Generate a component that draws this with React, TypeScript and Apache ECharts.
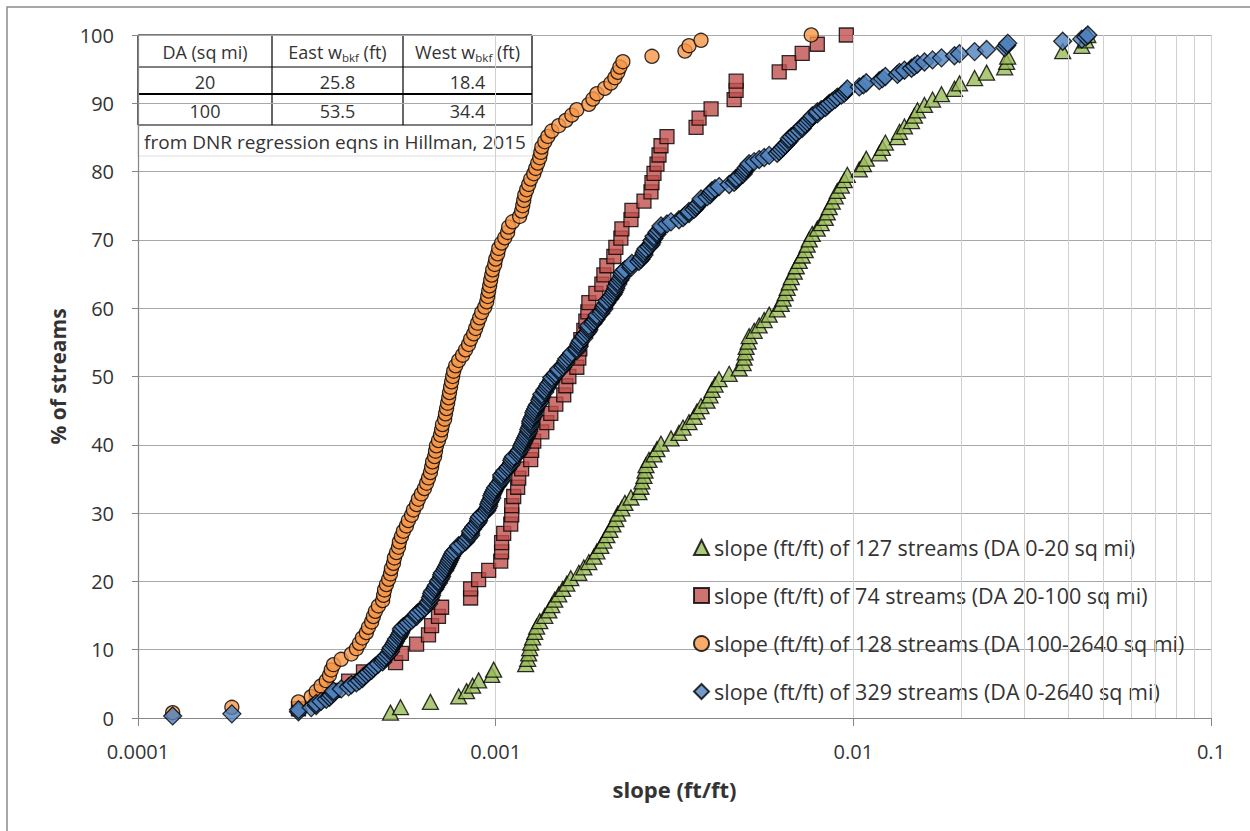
import React, { useEffect, useRef } from "react";
import * as echarts from "echarts";

// slope (ft/ft) of each stream
const greenSlopes = [
  0.000508, 0.000542, 0.000657, 0.000788, 0.000829, 0.000862, 0.000896, 0.000975, 0.000987,
  0.001213, 0.001229, 0.001237, 0.001245, 0.001253, 0.001269, 0.001286, 0.001302, 0.001328, 0.001372,
  0.001408, 0.001435, 0.001463, 0.001501, 0.00154, 0.001581, 0.001622, 0.001708, 0.001764, 0.001822,
  0.001882, 0.001919, 0.001968, 0.002007, 0.002046, 0.002086, 0.002127, 0.002168, 0.002196, 0.002254,
  0.002298, 0.002389, 0.002515, 0.002548, 0.002564, 0.002598, 0.002615, 0.002632, 0.002683, 0.002771,
  0.002825, 0.002899, 0.003092, 0.003255, 0.00334, 0.003472, 0.003586, 0.003656, 0.003751, 0.003899,
  0.003975, 0.004027, 0.004106, 0.004213, 0.004496, 0.004795, 0.00492, 0.004952, 0.004984, 0.005015,
  0.005081, 0.005113, 0.005281, 0.005454, 0.005633, 0.005818, 0.006125, 0.006285, 0.006366, 0.006449,
  0.006533, 0.006618, 0.006706, 0.006837, 0.006926, 0.00706, 0.007195, 0.007336, 0.007431, 0.00753,
  0.007677, 0.00793, 0.008134, 0.008347, 0.008455, 0.008565, 0.008733, 0.008903, 0.009019, 0.009255,
  0.009436, 0.00962, 0.01039, 0.01067, 0.01087, 0.01182, 0.01206, 0.01229, 0.01328, 0.01346,
  0.0139, 0.01454, 0.01482, 0.01511, 0.01581, 0.01665, 0.01764, 0.01918, 0.01981, 0.02183,
  0.02358, 0.02649, 0.02683, 0.02701, 0.03849, 0.04353, 0.04467, 0.04525,
];

const redSlopes = [
  0.000281, 0.000315, 0.000352, 0.000388, 0.000427, 0.000525, 0.000545, 0.000601, 0.000649, 0.000662,
  0.000692, 0.000706, 0.000851, 0.000851, 0.000896, 0.000956, 0.001033, 0.001039, 0.001039, 0.001053,
  0.001102, 0.001109, 0.001109, 0.001123, 0.001152, 0.00116, 0.001182, 0.001253, 0.001261, 0.001278,
  0.001346, 0.00139, 0.001426, 0.001473, 0.00155, 0.001571, 0.001602, 0.001686, 0.001708, 0.001719,
  0.00173, 0.001764, 0.001787, 0.00181, 0.001822, 0.001906, 0.001981, 0.002007, 0.002046, 0.00214,
  0.002168, 0.002239, 0.002254, 0.002389, 0.002404, 0.002598, 0.002718, 0.002735, 0.002771, 0.002825,
  0.002862, 0.002899, 0.003013, 0.003633, 0.003704, 0.004002, 0.004642, 0.004702, 0.004702, 0.006205,
  0.006618, 0.007195, 0.00793, 0.009559,
];

const orangeSlopes = [
  0.000125, 0.000183, 0.000281, 0.000305, 0.000315, 0.000325, 0.000336, 0.000343, 0.000347, 0.000352,
  0.00037, 0.000395, 0.000408, 0.000416, 0.000424, 0.000435, 0.000441, 0.00045, 0.000455, 0.000461,
  0.00047, 0.000483, 0.000486, 0.000489, 0.000495, 0.000502, 0.000508, 0.000511, 0.000518, 0.000521,
  0.000528, 0.000535, 0.000538, 0.000545, 0.000552, 0.000563, 0.00057, 0.000582, 0.000589, 0.000601,
  0.000608, 0.00062, 0.000632, 0.000641, 0.000649, 0.000657, 0.000662, 0.000666, 0.000675, 0.000679,
  0.000683, 0.000692, 0.000701, 0.000706, 0.00071, 0.00072, 0.000724, 0.000729, 0.000734, 0.000739,
  0.000743, 0.000748, 0.000753, 0.000758, 0.000763, 0.000773, 0.000788, 0.000808, 0.000824, 0.00084,
  0.000851, 0.000868, 0.000879, 0.00089, 0.000902, 0.000914, 0.000932, 0.000944, 0.00095, 0.000956,
  0.000962, 0.000968, 0.000975, 0.000981, 0.000994, 0.001, 0.001013, 0.00102, 0.001039, 0.00106,
  0.00108, 0.001087, 0.001115, 0.001167, 0.001182, 0.00119, 0.001198, 0.001206, 0.001221, 0.001237,
  0.001253, 0.001278, 0.001294, 0.001311, 0.001328, 0.001337, 0.001346, 0.001372, 0.001399, 0.001435,
  0.001501, 0.001571, 0.001633, 0.001686, 0.001822, 0.00187, 0.001919, 0.00202, 0.0021, 0.002154,
  0.002196, 0.002225, 0.002268, 0.002735, 0.003383, 0.003472, 0.003751, 0.007627,
];

const seriesNames = [
  "slope (ft/ft) of 127 streams (DA 0-20 sq mi)",
  "slope (ft/ft) of 74 streams (DA 20-100 sq mi)",
  "slope (ft/ft) of 128 streams (DA 100-2640 sq mi)",
  "slope (ft/ft) of 329 streams (DA 0-2640 sq mi)",
];

const minorGridValues = [
  0.0002, 0.0003, 0.0004, 0.0005, 0.0006, 0.0007, 0.0008, 0.0009,
  0.002, 0.003, 0.004, 0.005, 0.006, 0.007, 0.008, 0.009,
  0.02, 0.03, 0.04, 0.05, 0.06, 0.07, 0.08, 0.09,
];

const tableHeader = ["DA (sq mi)", "East w{s|bkf} (ft)", "West w{s|bkf} (ft)"];
const tableRows = [
  ["20", "25.8", "18.4"],
  ["100", "53.5", "34.4"],
];
const tableNote = "from DNR regression eqns in Hillman, 2015";

const FONT = "'Open Sans', Lato, sans-serif";
const TEXT = "#333333";

function cumulative(values: number[]) {
  const sorted = [...values].sort((a, b) => a - b);
  return sorted.map((v, i) => [v, ((i + 1) / sorted.length) * 100]);
}

function buildTable() {
  const colX = [138, 272, 403, 532];
  const rowY = [35, 67, 94, 125];
  const noteBottom = 156;
  const els: any[] = [];
  els.push({
    type: "rect",
    shape: { x: colX[0], y: rowY[0], width: colX[3] - colX[0], height: noteBottom - rowY[0] },
    style: { fill: "#ffffff", stroke: "#dedede", lineWidth: 1 },
  });
  rowY.forEach((y, i) => {
    els.push({
      type: "line",
      shape: { x1: colX[0], y1: y, x2: colX[3], y2: y },
      style: { stroke: "#000", lineWidth: i === 2 ? 2.2 : 1.2 },
    });
  });
  colX.forEach((x) => {
    els.push({
      type: "line",
      shape: { x1: x, y1: rowY[0], x2: x, y2: rowY[3] },
      style: { stroke: "#000", lineWidth: 1.2 },
    });
  });
  const rich = {
    s: { fontSize: 11.5, fontFamily: FONT, fill: TEXT, verticalAlign: "bottom", lineHeight: 12 },
  };
  const allRows = [tableHeader, ...tableRows];
  allRows.forEach((row, r) => {
    row.forEach((cell, c) => {
      els.push({
        type: "text",
        x: (colX[c] + colX[c + 1]) / 2,
        y: (rowY[r] + rowY[r + 1]) / 2 + 1,
        style: {
          text: cell,
          fontSize: 18,
          fontFamily: FONT,
          fill: TEXT,
          align: "center",
          verticalAlign: "middle",
          lineHeight: 22,
          rich,
        },
      });
    });
  });
  els.push({
    type: "text",
    x: (colX[0] + colX[3]) / 2,
    y: (rowY[3] + noteBottom) / 2 + 1,
    style: {
      text: tableNote,
      fontSize: 19,
      fontFamily: FONT,
      fill: TEXT,
      align: "center",
      verticalAlign: "middle",
    },
  });
  return { type: "group", z: 100, silent: true, children: els };
}

export default function App() {
  const ref = useRef<HTMLDivElement>(null);
  useEffect(() => {
    if (!ref.current) return;
    const chart = echarts.init(ref.current, null, { renderer: "svg" });
    const marker = { borderColor: "#000", borderWidth: 1.3 };
    const option: any = {
      animation: false,
      backgroundColor: "#ffffff",
      textStyle: { fontFamily: FONT },
      grid: { left: 138, right: 39, top: 35, bottom: 113, containLabel: false },
      legend: {
        orient: "vertical",
        left: 688,
        top: 531,
        itemGap: 25,
        itemWidth: 15,
        itemHeight: 15,
        data: seriesNames,
        textStyle: { fontSize: 21.5, lineHeight: 23, color: TEXT, fontFamily: FONT },
        selectedMode: false,
      },
      xAxis: {
        type: "log",
        logBase: 10,
        min: 0.0001,
        max: 0.1,
        name: "slope (ft/ft)",
        nameLocation: "middle",
        nameGap: 60,
        nameTextStyle: { fontSize: 22, fontWeight: "bold", color: TEXT, fontFamily: FONT },
        axisLine: { show: true, onZero: false, lineStyle: { color: "#868686", width: 1.2 } },
        axisTick: { show: true, inside: false, length: 8, lineStyle: { color: "#868686" } },
        axisLabel: {
          fontSize: 20,
          color: TEXT,
          margin: 23,
          fontFamily: FONT,
          formatter: (v: number) => {
            const e = Math.round(Math.log10(v));
            return e >= 0 ? String(Math.pow(10, e)) : Math.pow(10, e).toFixed(-e);
          },
        },
        splitLine: { show: true, lineStyle: { color: "#d0d0d0", width: 1 } },
      },
      yAxis: {
        type: "value",
        min: 0,
        max: 100,
        interval: 10,
        name: "% of streams",
        nameLocation: "middle",
        nameGap: 68,
        nameRotate: 90,
        nameTextStyle: { fontSize: 21, fontWeight: "bold", color: TEXT, fontFamily: FONT },
        axisLine: { show: true, lineStyle: { color: "#868686", width: 1.2 } },
        axisTick: { show: true, inside: false, length: 6, lineStyle: { color: "#868686" } },
        axisLabel: { fontSize: 20, color: TEXT, margin: 24, fontFamily: FONT },
        splitLine: { show: true, lineStyle: { color: "#a8a8a8", width: 1.2 } },
      },
      graphic: [
        {
          type: "rect",
          z: -1,
          silent: true,
          shape: { x: 7, y: 7, width: 1400, height: 1000 },
          style: { fill: "none", stroke: "#8c8c8c", lineWidth: 1.5 },
        },
        buildTable(),
      ],
      series: [
        {
          name: "minor-grid",
          type: "scatter",
          data: [],
          silent: true,
          markLine: {
            silent: true,
            symbol: "none",
            label: { show: false },
            lineStyle: { color: "#d0d0d0", type: "solid", width: 1 },
            data: minorGridValues.map((v) => ({ xAxis: v })),
          },
        },
        {
          name: seriesNames[0],
          type: "scatter",
          symbol: "triangle",
          symbolSize: [16, 15],
          itemStyle: { color: "#9BBB59", ...marker },
          data: cumulative(greenSlopes),
        },
        {
          name: seriesNames[1],
          type: "scatter",
          symbol: "rect",
          symbolSize: 14,
          itemStyle: { color: "#C0504D", ...marker },
          data: cumulative(redSlopes),
        },
        {
          name: seriesNames[2],
          type: "scatter",
          symbol: "circle",
          symbolSize: 14,
          itemStyle: { color: "#F79646", ...marker },
          data: cumulative(orangeSlopes),
        },
        {
          name: seriesNames[3],
          type: "scatter",
          symbol: "diamond",
          symbolSize: 18,
          itemStyle: { color: "#4F81BD", ...marker },
          data: cumulative([...greenSlopes, ...redSlopes, ...orangeSlopes]),
        },
      ],
    };
    chart.setOption(option);
    return () => chart.dispose();
  }, []);
  return (
    <div
      ref={ref}
      style={{ position: "fixed", left: 0, top: 0, width: 1250, height: 831, background: "#fff" }}
    />
  );
}
